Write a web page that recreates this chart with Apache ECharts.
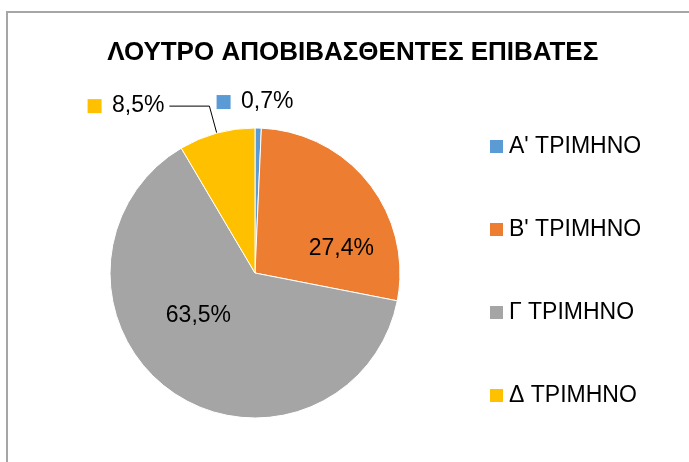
<!DOCTYPE html>
<html>
<head>
<meta charset="utf-8">
<script src="https://cdn.jsdelivr.net/npm/echarts@6/dist/echarts.min.js"></script>
<style>
    html, body { margin: 0; padding: 0; background: #fff; }
    #chart { width: 689px; height: 462px; }
</style>
</head>
<body>
<div id="chart"></div>
<script>
    // τρίμηνα και ποσοστά επιβατών (%)
    const quarters = ['Α\' ΤΡΙΜΗΝΟ', 'Β\' ΤΡΙΜΗΝΟ', 'Γ ΤΡΙΜΗΝΟ', 'Δ ΤΡΙΜΗΝΟ']
    const shares = [0.7, 27.4, 63.5, 8.5]
    const colors = ['#5b9bd5', '#ed7d31', '#a5a5a5', '#ffc000']

    const font = 'Liberation Sans, Arial, sans-serif'

    // rich styles for the small colour keys in the outside labels
    const rich = {v: {fontSize: 23, fontFamily: font, color: '#000', padding: [0, 0, 0, 4]}}
    colors.forEach((c, i) => {
        rich['k' + i] = {width: 14, height: 14, backgroundColor: c}
    })

    const fmt = v => v.toFixed(1).replace('.', ',') + '%'

    // which slices get their label inside, and a nudge for each
    const insideOffset = [null, [27, 22], [-13, -19], null]

    const data = quarters.map((name, i) => {
        const item = {name: name, value: shares[i]}
        if (insideOffset[i]) {
            item.label = {position: 'inside', offset: insideOffset[i],
                formatter: p => fmt(p.value)}
            item.labelLine = {show: false}
        } else {
            item.label = {position: 'outside',
                formatter: p => '{k' + p.dataIndex + '|} {v|' + fmt(p.value) + '}'}
        }
        return item
    })
    data[0].labelLine = {show: false}
    data[3].labelLine = {length: 28, length2: 40}

    const chart = echarts.init(document.getElementById('chart'))
    chart.setOption({
        color: colors,
        animation: false,
        title: {
            text: 'ΛΟΥΤΡΟ ΑΠΟΒΙΒΑΣΘΕΝΤΕΣ ΕΠΙΒΑΤΕΣ',
            left: '51.2%',
            textAlign: 'center',
            top: 40,
            padding: 0,
            textStyle: {fontSize: 26, fontWeight: 'bold', fontFamily: font, color: '#000'}
        },
        legend: {
            orient: 'vertical',
            left: 488,
            top: 135,
            icon: 'rect',
            itemWidth: 15,
            itemHeight: 15,
            itemGap: 60,
            padding: 0,
            selectedMode: false,
            textStyle: {fontSize: 23, lineHeight: 22, fontFamily: font, color: '#000'},
            data: quarters
        },
        graphic: [{
            type: 'rect',
            shape: {x: 7, y: 12, width: 720, height: 500},
            style: {fill: null, stroke: '#a6a6a6', lineWidth: 2},
            silent: true
        }],
        series: [{
            type: 'pie',
            center: [255, 273],
            radius: 145,
            startAngle: 90,
            clockwise: true,
            avoidLabelOverlap: false,
            itemStyle: {borderColor: '#fff', borderWidth: 1},
            label: {fontSize: 23, fontFamily: font, color: '#000', rich: rich},
            labelLine: {length: 18, length2: 15, lineStyle: {color: '#000', width: 1}},
            labelLayout: p => (p.dataIndex === 0 ? {dx: -62, dy: -8} : {}),
            data: data
        }]
    })
</script>
</body>
</html>
